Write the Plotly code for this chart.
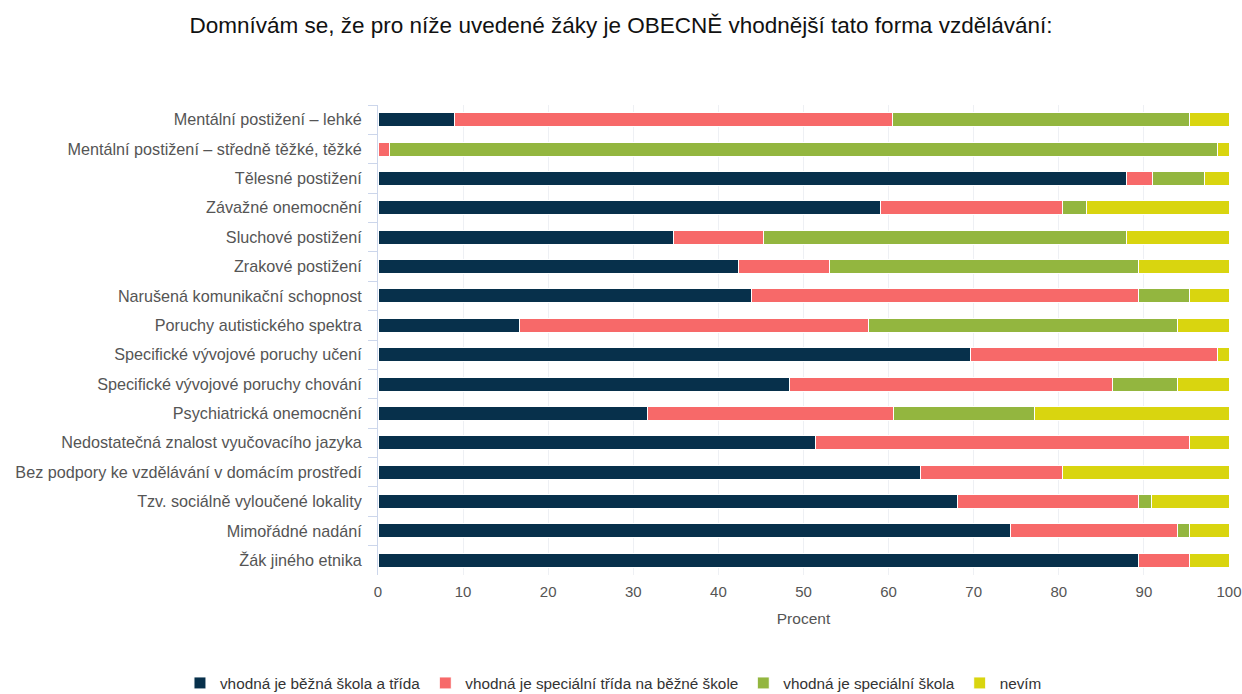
import plotly.graph_objects as go

categories = [
    "Mentální postižení – lehké",
    "Mentální postižení – středně těžké, těžké",
    "Tělesné postižení",
    "Závažné onemocnění",
    "Sluchové postižení",
    "Zrakové postižení",
    "Narušená komunikační schopnost",
    "Poruchy autistického spektra",
    "Specifické vývojové poruchy učení",
    "Specifické vývojové poruchy chování",
    "Psychiatrická onemocnění",
    "Nedostatečná znalost vyučovacího jazyka",
    "Bez podpory ke vzdělávání v domácím prostředí",
    "Tzv. sociálně vyloučené lokality",
    "Mimořádné nadání",
    "Žák jiného etnika",
]

bezna = [9.0, 0.0, 87.9, 59.1, 34.7, 42.4, 43.9, 16.6, 69.6, 48.4, 31.7, 51.4, 63.7, 68.1, 74.3, 89.4]
spec_trida = [51.5, 1.4, 3.1, 21.3, 10.6, 10.6, 45.5, 41.0, 29.0, 37.9, 28.9, 43.9, 16.7, 21.3, 19.6, 5.9]
spec_skola = [34.8, 97.2, 6.1, 2.8, 42.6, 36.4, 6.0, 36.3, 0.0, 7.6, 16.6, 0.0, 0.0, 1.5, 1.5, 0.0]
nevim = [4.7, 1.4, 2.9, 16.8, 12.1, 10.6, 4.6, 6.1, 1.4, 6.1, 22.8, 4.7, 19.6, 9.1, 4.6, 4.7]

series = [
    ("vhodná je běžná škola a třída", bezna, "#07304B"),
    ("vhodná je speciální třída na běžné škole", spec_trida, "#F76969"),
    ("vhodná je speciální škola", spec_skola, "#93B63F"),
    ("nevím", nevim, "#D9D50F"),
]

x_ticks = [0, 10, 20, 30, 40, 50, 60, 70, 80, 90, 100]

fig = go.Figure()
for name, vals, color in series:
    fig.add_trace(go.Bar(
        y=categories, x=vals, name=name, orientation="h",
        marker=dict(color=color, line=dict(color="white", width=1)),
    ))

fig.update_layout(
    barmode="stack",
    bargap=0.52,
    width=1242, height=694,
    margin=dict(l=378, r=13, t=105, b=119, autoexpand=False),
    paper_bgcolor="white", plot_bgcolor="white",
    font=dict(family="Liberation Sans, Arial, sans-serif", color="#555555", size=15),
    title=dict(
        text="Domnívám se, že pro níže uvedené žáky je OBECNĚ vhodnější tato forma vzdělávání:",
        x=0.5, xref="container", xanchor="center", y=0.964, yanchor="middle",
        font=dict(size=22.5, color="#111111"),
    ),
    legend=dict(
        orientation="h", xref="paper", yref="paper",
        x=-0.2327, xanchor="left", y=-0.2298, yanchor="middle",
        font=dict(size=15.3, color="#333333"), traceorder="normal",
    ),
    xaxis=dict(
        range=[0, 100], tickvals=x_ticks, ticktext=[str(v) for v in x_ticks],
        showgrid=True, gridcolor="#eef0f4", gridwidth=1, zeroline=False,
        title=dict(text="Procent", standoff=14, font=dict(size=15.5, color="#555555")),
        tickfont=dict(size=15, color="#555555"), automargin=False,
        ticklabelstandoff=6,
    ),
    yaxis=dict(
        autorange="reversed", showline=True, linecolor="#ccd6eb", linewidth=1,
        ticks="outside", tickson="boundaries", ticklen=9, tickcolor="#ccd6eb",
        showgrid=False, tickfont=dict(size=16.2, color="#555555"),
        automargin=False, ticklabelstandoff=12,
    ),
)

fig.write_html(
    "out.html",
    config={"displayModeBar": False},
    post_script="document.body.style.margin='0px';",
)
